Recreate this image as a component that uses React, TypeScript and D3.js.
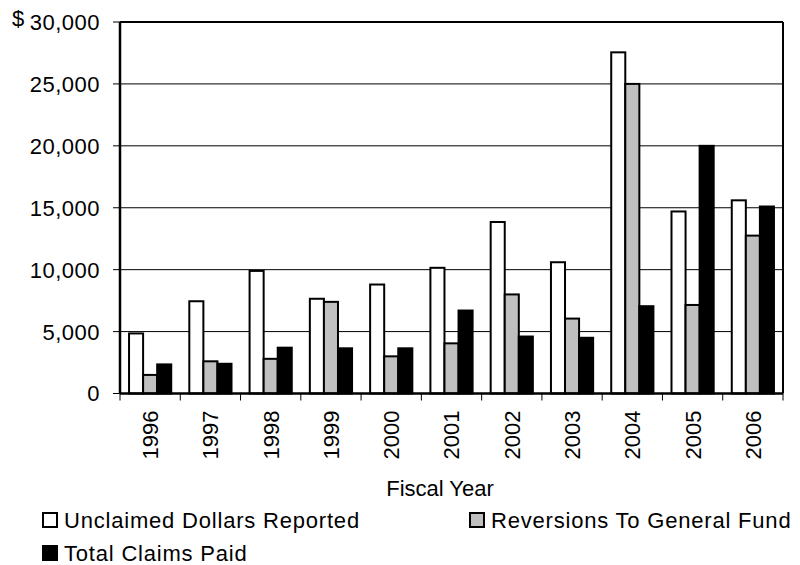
import * as d3 from 'd3';

// Fiscal years and the three series (dollars)
const years = ['1996', '1997', '1998', '1999', '2000', '2001', '2002', '2003', '2004', '2005', '2006'];
const unclaimed = [4850, 7450, 9900, 7650, 8800, 10150, 13850, 10600, 27550, 14700, 15600];
const reversions = [1500, 2600, 2800, 7400, 3000, 4050, 8000, 6050, 25000, 7150, 12750];
const claimsPaid = [2350, 2400, 3700, 3650, 3650, 6700, 4600, 4500, 7050, 20000, 15100];
const yTicks = [0, 5000, 10000, 15000, 20000, 25000, 30000];

const seriesNames = ['Unclaimed Dollars Reported', 'Reversions To General Fund', 'Total Claims Paid'];
const seriesFill = ['#ffffff', '#c0c0c0', '#000000'];
const seriesValues = [unclaimed, reversions, claimsPaid];

const FONT = 'Arial, Liberation Sans, Helvetica, sans-serif';

const App = () => {
  const width = 800;
  const height = 565;
  const margin = { top: 22, right: 17, bottom: 171.5, left: 120 };
  const innerW = width - margin.left - margin.right;
  const innerH = height - margin.top - margin.bottom;

  const x0 = d3.scaleBand<string>()
    .domain(years)
    .range([0, innerW])
    .paddingInner(0.3)
    .paddingOuter(0.15);

  const x1 = d3.scaleBand<number>()
    .domain([0, 1, 2])
    .range([0, x0.bandwidth()]);

  const y = d3.scaleLinear().domain([0, 30000]).range([innerH, 0]);

  const fmt = d3.format(',');
  const step = x0.step();

  return (
    <svg width={width} height={height} style={{ position: 'absolute', left: 0, top: 0 }}>
      <rect width={width} height={height} fill="#fff" />
      <g transform={`translate(${margin.left},${margin.top})`}>
        {/* gridlines */}
        {yTicks.filter(t => t > 0 && t < 30000).map(t => (
          <line key={t} x1={0} x2={innerW} y1={y(t)} y2={y(t)} stroke="#000" strokeWidth={1} />
        ))}

        {/* bars */}
        {years.map((yr, i) => (
          <g key={yr} transform={`translate(${x0(yr)},0)`}>
            {seriesValues.map((vals, s) => (
              <rect
                key={s}
                x={x1(s)}
                y={y(vals[i])}
                width={x1.bandwidth()}
                height={innerH - y(vals[i])}
                fill={seriesFill[s]}
                stroke="#000"
                strokeWidth={2}
              />
            ))}
          </g>
        ))}

        {/* frame */}
        <line x1={0} x2={innerW} y1={y(30000)} y2={y(30000)} stroke="#000" strokeWidth={2} />
        <line x1={innerW} x2={innerW} y1={0} y2={innerH} stroke="#000" strokeWidth={2} />
        <line x1={0} x2={0} y1={0} y2={innerH} stroke="#000" strokeWidth={2.5} />
        <line x1={0} x2={innerW} y1={innerH} y2={innerH} stroke="#000" strokeWidth={2.5} />

        {/* y axis ticks + labels */}
        {yTicks.map(t => (
          <g key={t} transform={`translate(0,${y(t)})`}>
            <line x1={-7} x2={0} stroke="#000" strokeWidth={1} />
            <text x={-20} dy="0.36em" textAnchor="end" fontFamily={FONT} fontSize={22} letterSpacing={0.5}>
              {fmt(t)}
            </text>
          </g>
        ))}
        <text x={12 - margin.left} y={26 - margin.top} fontFamily={FONT} fontSize={22}>$</text>

        {/* x axis ticks + labels */}
        {d3.range(years.length + 1).map(k => (
          <line key={k} x1={k * step} x2={k * step} y1={innerH} y2={innerH + 7} stroke="#000" strokeWidth={1} />
        ))}
        {years.map(yr => (
          <text
            key={yr}
            transform={`translate(${(x0(yr) ?? 0) + x0.bandwidth() / 2},${innerH + 17}) rotate(-90)`}
            textAnchor="end"
            dy="0.36em"
            fontFamily={FONT}
            fontSize={22}
          >
            {yr}
          </text>
        ))}
        <text x={440 - margin.left} y={496 - margin.top} textAnchor="middle" fontFamily={FONT} fontSize={22}>
          Fiscal Year
        </text>
      </g>

      {/* legend */}
      {seriesNames.map((name, s) => {
        const lx = s === 1 ? 470 : 43;
        const ly = s === 2 ? 546 : 513;
        return (
          <g key={name} transform={`translate(${lx},${ly})`}>
            <rect width={14} height={14} fill={seriesFill[s]} stroke="#000" strokeWidth={2} />
            <text x={21} y={15} fontFamily={FONT} fontSize={22} letterSpacing={0.8}>{name}</text>
          </g>
        );
      })}
    </svg>
  );
};

export default App;
